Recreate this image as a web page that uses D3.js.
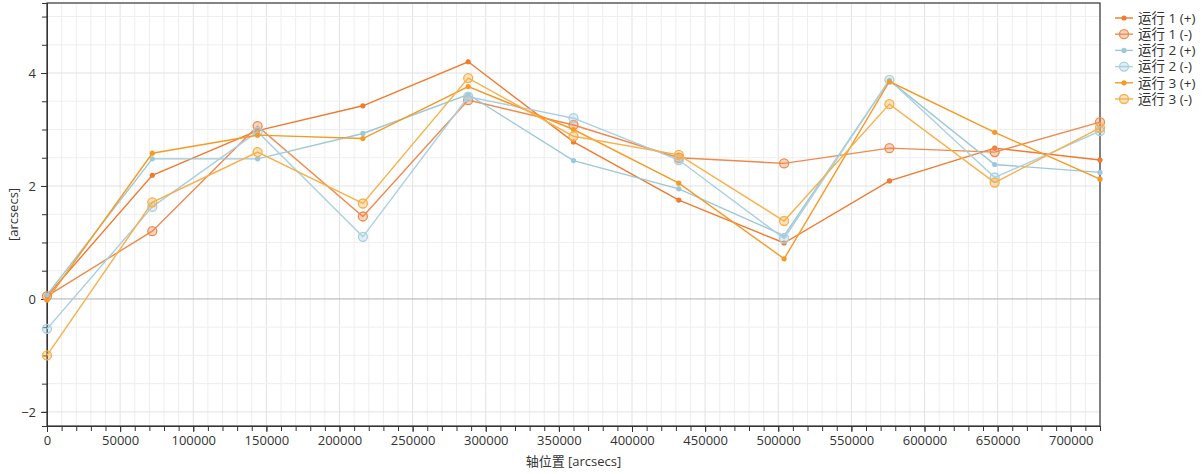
<!DOCTYPE html>
<html>
<head>
<meta charset="utf-8">
<script src="https://cdn.jsdelivr.net/npm/d3@7"></script>
<style>
  body { margin: 0; background: #fff; }
  text { font-family: "Open Sans", "Noto Sans CJK SC", sans-serif; fill: #333; }
</style>
</head>
<body>
<svg width="1202" height="474"></svg>
<script>
// axis positions (arcsecs)
var positions = [0, 72000, 144000, 216000, 288000, 360000, 432000, 504000, 576000, 648000, 720000];

// error values per run, per direction
var run1Plus  = [0.05, 2.19, 2.98, 3.42, 4.20, 2.78, 1.75, 0.99, 2.09, 2.67, 2.46];
var run1Minus = [0.05, 1.20, 3.06, 1.46, 3.52, 3.08, 2.50, 2.40, 2.67, 2.60, 3.13];
var run2Plus  = [0.07, 2.48, 2.48, 2.93, 3.62, 2.45, 1.95, 1.12, 3.87, 2.38, 2.24];
var run2Minus = [-0.53, 1.63, 2.96, 1.10, 3.58, 3.20, 2.46, 1.07, 3.88, 2.15, 2.97];
var run3Plus  = [-0.02, 2.58, 2.90, 2.84, 3.76, 3.00, 2.05, 0.71, 3.85, 2.95, 2.12];
var run3Minus = [-1.00, 1.71, 2.60, 1.69, 3.91, 2.88, 2.55, 1.38, 3.45, 2.06, 3.03];

var seriesNames = ["运行 1 (+)", "运行 1 (-)", "运行 2 (+)", "运行 2 (-)", "运行 3 (+)", "运行 3 (-)"];
var seriesValues = [run1Plus, run1Minus, run2Plus, run2Minus, run3Plus, run3Minus];
var seriesColors = ["#f07a2e", "#ef8a4c", "#9dc8da", "#a9cfe0", "#f59b25", "#f7b04a"];
var seriesOpen = [false, true, false, true, false, true];

var xTicksMajor = d3.range(0, 700001, 50000);
var yTicksMajor = [-2, 0, 2, 4];

var plot = {left: 47, top: 3, right: 1100, bottom: 426};

var svg = d3.select("svg");

var xScale = d3.scaleLinear()
    .domain([0, 720000])
    .range([plot.left, plot.right]);

var yScale = d3.scaleLinear()
    .domain([-2.25, 5.24])
    .range([plot.bottom, plot.top]);

// grid
var grid = svg.append("g");
grid.selectAll(".vgrid")
    .data(d3.range(0, 720001, 10000))
    .enter().append("line")
    .attr("x1", function(d) { return xScale(d); })
    .attr("x2", function(d) { return xScale(d); })
    .attr("y1", plot.top).attr("y2", plot.bottom)
    .attr("stroke", function(d) { return d % 50000 === 0 ? "#e2e2e2" : "#eeeeee"; })
    .attr("stroke-width", 1);

grid.selectAll(".hgrid")
    .data(d3.range(-2, 5.01, 0.5))
    .enter().append("line")
    .attr("x1", plot.left).attr("x2", plot.right)
    .attr("y1", function(d) { return yScale(d); })
    .attr("y2", function(d) { return yScale(d); })
    .attr("stroke", function(d) {
       if (d === 0) return "#b0b0b0";
       return d % 2 === 0 ? "#e2e2e2" : "#eeeeee";
    })
    .attr("stroke-width", 1);

// frame
svg.append("rect")
    .attr("x", plot.left).attr("y", plot.top)
    .attr("width", plot.right - plot.left)
    .attr("height", plot.bottom - plot.top)
    .attr("fill", "none")
    .attr("stroke", "#333")
    .attr("stroke-width", 1.2);

// x axis
var xAxisMinor = d3.axisBottom(xScale)
    .tickValues(d3.range(0, 720001, 10000))
    .tickSize(5)
    .tickFormat("");
svg.append("g")
    .attr("transform", "translate(0," + plot.bottom + ")")
    .call(xAxisMinor)
    .call(function(g) { g.select(".domain").attr("stroke", "#333"); g.selectAll("line").attr("stroke", "#333"); });

var xAxis = d3.axisBottom(xScale)
    .tickValues(xTicksMajor)
    .tickSize(6)
    .tickPadding(4)
    .tickFormat(d3.format("d"));
svg.append("g")
    .attr("transform", "translate(0," + plot.bottom + ")")
    .call(xAxis)
    .call(function(g) {
       g.select(".domain").remove();
       g.selectAll("line").attr("stroke", "#333");
       g.selectAll("text").style("font-size", "13px").attr("fill", "#333");
    });

// y axis
var yAxisMinor = d3.axisLeft(yScale)
    .tickValues(d3.range(-2, 5.01, 0.5))
    .tickSize(5)
    .tickFormat("");
svg.append("g")
    .attr("transform", "translate(" + plot.left + ",0)")
    .call(yAxisMinor)
    .call(function(g) { g.select(".domain").attr("stroke", "#333"); g.selectAll("line").attr("stroke", "#333"); });

var yAxis = d3.axisLeft(yScale)
    .tickValues(yTicksMajor)
    .tickSize(6)
    .tickPadding(5)
    .tickFormat(d3.format("d"));
svg.append("g")
    .attr("transform", "translate(" + plot.left + ",0)")
    .call(yAxis)
    .call(function(g) {
       g.select(".domain").remove();
       g.selectAll("line").attr("stroke", "#333");
       g.selectAll("text").style("font-size", "13px").attr("fill", "#333");
    });

// axis titles
svg.append("text")
    .attr("x", (plot.left + plot.right) / 2)
    .attr("y", 466)
    .attr("text-anchor", "middle")
    .style("font-size", "13px")
    .text("轴位置 [arcsecs]");

svg.append("text")
    .attr("transform", "translate(18," + ((plot.top + plot.bottom) / 2) + ") rotate(-90)")
    .attr("text-anchor", "middle")
    .style("font-size", "13px")
    .text("[arcsecs]");

// lines and markers
var line = d3.line()
    .x(function(d, i) { return xScale(positions[i]); })
    .y(function(d) { return yScale(d); });

var series = svg.append("g")
    .selectAll("g")
    .data(seriesValues)
    .enter().append("g");

series.append("path")
    .attr("d", function(d) { return line(d); })
    .attr("fill", "none")
    .attr("stroke", function(d, i) { return seriesColors[i]; })
    .attr("stroke-width", 1.4);

series.each(function(vals, si) {
   d3.select(this).selectAll("circle")
      .data(vals)
      .enter().append("circle")
      .attr("cx", function(d, i) { return xScale(positions[i]); })
      .attr("cy", function(d) { return yScale(d); })
      .attr("r", seriesOpen[si] ? 4.5 : 2.6)
      .attr("fill", seriesColors[si])
      .attr("fill-opacity", seriesOpen[si] ? 0.35 : 1)
      .attr("stroke", seriesOpen[si] ? seriesColors[si] : "none")
      .attr("stroke-width", 1.3);
});

// legend
var legend = svg.append("g")
    .attr("transform", "translate(1115,18)");

var legendRow = legend.selectAll("g")
    .data(seriesNames)
    .enter().append("g")
    .attr("transform", function(d, i) { return "translate(0," + (i * 16.2) + ")"; });

legendRow.append("line")
    .attr("x1", 0).attr("x2", 18)
    .attr("stroke", function(d, i) { return seriesColors[i]; })
    .attr("stroke-width", 1.4);

legendRow.append("circle")
    .attr("cx", 9)
    .attr("r", function(d, i) { return seriesOpen[i] ? 4.5 : 2.6; })
    .attr("fill", function(d, i) { return seriesColors[i]; })
    .attr("fill-opacity", function(d, i) { return seriesOpen[i] ? 0.35 : 1; })
    .attr("stroke", function(d, i) { return seriesOpen[i] ? seriesColors[i] : "none"; })
    .attr("stroke-width", 1.3);

legendRow.append("text")
    .attr("x", 23)
    .attr("dy", "0.35em")
    .style("font-size", "13.5px")
    .text(function(d) { return d; });
</script>
</body>
</html>
